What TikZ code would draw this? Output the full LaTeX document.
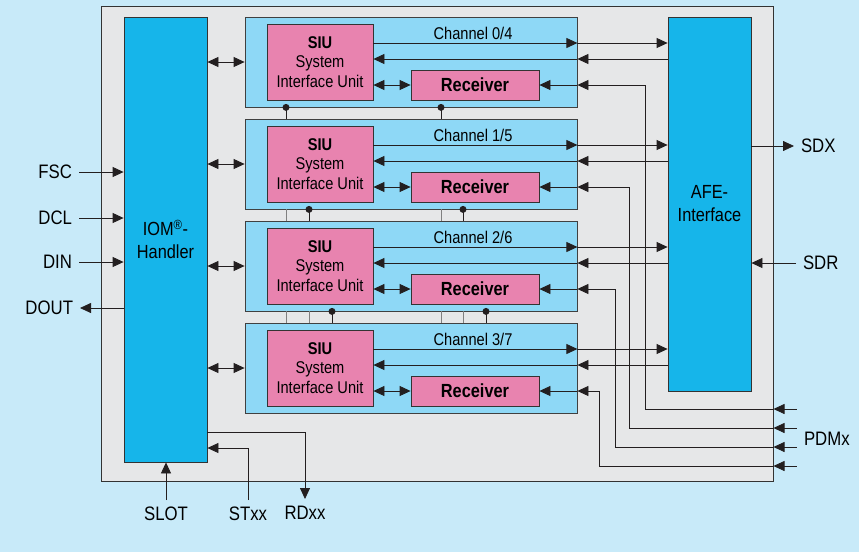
\documentclass[tikz,border=0pt]{standalone}
\usepackage{fontspec}
\setmainfont{Liberation Sans}[FakeStretch=0.86]
\usetikzlibrary{arrows.meta,positioning,calc}
\definecolor{pagebg}{HTML}{C8EAF9}
\definecolor{chipgray}{HTML}{E6E7E8}
\definecolor{hostblue}{HTML}{16B5EA}
\definecolor{chanblue}{HTML}{8ED8F6}
\definecolor{siupink}{HTML}{E883AF}
\definecolor{wire}{HTML}{231F20}
\tikzset{
  chipbox/.style={draw=black!80, fill=chipgray, line width=1pt, inner sep=0pt},
  hostbox/.style={draw=black!80, fill=hostblue, line width=0.8pt, minimum width=83pt, inner sep=0pt, align=center, font=\fontsize{19}{23}\selectfont},
  chanbox/.style={draw=black!75, fill=chanblue, line width=0.8pt, minimum width=332pt, minimum height=90pt, inner sep=0pt},
  siubox/.style={draw=black!80, fill=siupink, line width=0.8pt, minimum width=106pt, minimum height=76pt, inner sep=0pt, align=center, font=\fontsize{17}{19.5}\selectfont},
  rxbox/.style={draw=black!80, fill=siupink, line width=0.8pt, minimum width=128pt, minimum height=30pt, inner sep=0pt, font=\bfseries\fontsize{19}{22}\selectfont},
  chanlabel/.style={font=\fontsize{17}{20}\selectfont, inner sep=0pt},
  siglabel/.style={font=\fontsize{19.5}{22}\selectfont, inner sep=0pt, outer sep=7pt},
  sigarrow/.style={-{Triangle[length=11pt,width=10pt]}, line width=0.8pt, draw=wire},
  sigdarrow/.style={{Triangle[length=11pt,width=10pt]}-{Triangle[length=11pt,width=10pt]}, line width=0.8pt, draw=wire},
  busdark/.style={line width=0.8pt, draw=wire},
  buslight/.style={line width=0.8pt, draw=black!50},
  busdot/.style={circle, fill=wire, inner sep=0pt, minimum size=7pt},
}

\begin{document}
\begin{tikzpicture}[x=1pt,y=-1pt]
  \fill[pagebg] (0,0) rectangle (859,552);
  \useasboundingbox (0,0) rectangle (859,552);

  \node[chipbox, minimum width=672pt, minimum height=475pt] (chip) at (437,243.5) {};

  \node[hostbox, minimum height=445pt] (iom) at (165.5,239.5) {IOM\textsuperscript{\textregistered}-\\Handler};
  \node[hostbox, minimum height=374pt] (afe) at (709.5,204) {AFE-\\Interface};

  % channel blocks
  \node[chanbox] (ch0) at (411,62) {};
  \node[siubox] (siu0) at (320,62) {\textbf{SIU}\\System\\Interface Unit};
  \node[rxbox] (rx0) at (475,85) {Receiver};
  \node[chanlabel] (lbl0) at (473,33) {Channel 0/4};

  \node[chanbox] (ch1) at (411,164) {};
  \node[siubox] (siu1) at (320,164) {\textbf{SIU}\\System\\Interface Unit};
  \node[rxbox] (rx1) at (475,187) {Receiver};
  \node[chanlabel] (lbl1) at (473,135) {Channel 1/5};

  \node[chanbox] (ch2) at (411,266) {};
  \node[siubox] (siu2) at (320,266) {\textbf{SIU}\\System\\Interface Unit};
  \node[rxbox] (rx2) at (475,289) {Receiver};
  \node[chanlabel] (lbl2) at (473,237) {Channel 2/6};

  \node[chanbox] (ch3) at (411,368) {};
  \node[siubox] (siu3) at (320,368) {\textbf{SIU}\\System\\Interface Unit};
  \node[rxbox] (rx3) at (475,391) {Receiver};
  \node[chanlabel] (lbl3) at (473,339) {Channel 3/7};

  % bus between the channels
  \draw[busdark] (ch0.south -| 286,0) -- (ch1.north -| 286,0);
  \draw[busdark] (ch0.south -| 441,0) -- (ch1.north -| 441,0);
  \draw[buslight] (ch1.south -| 286,0) -- (ch2.north -| 286,0);
  \draw[busdark] (ch1.south -| 309,0) -- (ch2.north -| 309,0);
  \draw[buslight] (ch1.south -| 441,0) -- (ch2.north -| 441,0);
  \draw[busdark] (ch1.south -| 463,0) -- (ch2.north -| 463,0);
  \draw[buslight] (ch2.south -| 286,0) -- (ch3.north -| 286,0);
  \draw[buslight] (ch2.south -| 309,0) -- (ch3.north -| 309,0);
  \draw[busdark] (ch2.south -| 332,0) -- (ch3.north -| 332,0);
  \draw[buslight] (ch2.south -| 441,0) -- (ch3.north -| 441,0);
  \draw[buslight] (ch2.south -| 463,0) -- (ch3.north -| 463,0);
  \draw[busdark] (ch2.south -| 486,0) -- (ch3.north -| 486,0);
  \node[busdot] (dot0a) at (ch0.south -| 286,0) {};
  \node[busdot] (dot0b) at (ch0.south -| 441,0) {};
  \node[busdot] (dot1a) at (ch1.south -| 309,0) {};
  \node[busdot] (dot1b) at (ch1.south -| 463,0) {};
  \node[busdot] (dot2a) at (ch2.south -| 332,0) {};
  \node[busdot] (dot2b) at (ch2.south -| 486,0) {};

  % IOM side
  \draw[sigdarrow] (iom.east |- ch0.west) -- (ch0.west);
  \draw[sigdarrow] (iom.east |- ch1.west) -- (ch1.west);
  \draw[sigdarrow] (iom.east |- ch2.west) -- (ch2.west);
  \draw[sigdarrow] (iom.east |- ch3.west) -- (ch3.west);

  % SIU <-> receiver
  \draw[sigdarrow] (siu0.east |- rx0.west) -- (rx0.west);
  \draw[sigdarrow] (siu1.east |- rx1.west) -- (rx1.west);
  \draw[sigdarrow] (siu2.east |- rx2.west) -- (rx2.west);
  \draw[sigdarrow] (siu3.east |- rx3.west) -- (rx3.west);

  % channel <-> AFE
  \coordinate (out0) at ([yshift=19pt]ch0.east);
  \coordinate (in0) at ([yshift=3pt]ch0.east);
  \coordinate (out1) at ([yshift=19pt]ch1.east);
  \coordinate (in1) at ([yshift=3pt]ch1.east);
  \coordinate (out2) at ([yshift=19pt]ch2.east);
  \coordinate (in2) at ([yshift=3pt]ch2.east);
  \coordinate (out3) at ([yshift=19pt]ch3.east);
  \coordinate (in3) at ([yshift=3pt]ch3.east);
  \draw[sigarrow] (siu0.east |- out0) -- (out0);
  \draw[sigarrow] (out0) -- (afe.west |- out0);
  \draw[sigarrow] (afe.west |- in0) -- (in0);
  \draw[sigarrow] (in0) -- (siu0.east |- in0);
  \draw[sigarrow] (siu1.east |- out1) -- (out1);
  \draw[sigarrow] (out1) -- (afe.west |- out1);
  \draw[sigarrow] (afe.west |- in1) -- (in1);
  \draw[sigarrow] (in1) -- (siu1.east |- in1);
  \draw[sigarrow] (siu2.east |- out2) -- (out2);
  \draw[sigarrow] (out2) -- (afe.west |- out2);
  \draw[sigarrow] (afe.west |- in2) -- (in2);
  \draw[sigarrow] (in2) -- (siu2.east |- in2);
  \draw[sigarrow] (siu3.east |- out3) -- (out3);
  \draw[sigarrow] (out3) -- (afe.west |- out3);
  \draw[sigarrow] (afe.west |- in3) -- (in3);
  \draw[sigarrow] (in3) -- (siu3.east |- in3);

  % PDMx to the receivers
  \coordinate (pdm0) at (chip.east |- 0,409);
  \coordinate (pdm1) at (chip.east |- 0,428);
  \coordinate (pdm2) at (chip.east |- 0,447);
  \coordinate (pdm3) at (chip.east |- 0,466);
  \draw[sigarrow] ([xshift=23pt]pdm0) -- (pdm0);
  \draw[sigarrow] ([xshift=23pt]pdm1) -- (pdm1);
  \draw[sigarrow] ([xshift=23pt]pdm2) -- (pdm2);
  \draw[sigarrow] ([xshift=23pt]pdm3) -- (pdm3);
  \draw[sigarrow] (pdm0) -| (645,0 |- rx0.east) -- (ch0.east |- rx0.east);
  \draw[sigarrow] (pdm1) -| (629,0 |- rx1.east) -- (ch1.east |- rx1.east);
  \draw[sigarrow] (pdm2) -| (615,0 |- rx2.east) -- (ch2.east |- rx2.east);
  \draw[sigarrow] (pdm3) -| (599,0 |- rx3.east) -- (ch3.east |- rx3.east);
  \draw[sigarrow] (ch0.east |- rx0.east) -- (rx0.east);
  \draw[sigarrow] (ch1.east |- rx1.east) -- (rx1.east);
  \draw[sigarrow] (ch2.east |- rx2.east) -- (rx2.east);
  \draw[sigarrow] (ch3.east |- rx3.east) -- (rx3.east);
  \node[siglabel, anchor=west] (pdmx) at (797,439) {PDMx};

  % outer signals
  \node[siglabel, anchor=east] (fsc) at (79,172) {FSC};
  \node[siglabel, anchor=east] (dcl) at (79,218) {DCL};
  \node[siglabel, anchor=east] (din) at (79,262) {DIN};
  \node[siglabel, anchor=east] (dout) at (80,308) {DOUT};
  \draw[sigarrow] (fsc.east) -- (iom.west |- fsc.east);
  \draw[sigarrow] (dcl.east) -- (iom.west |- dcl.east);
  \draw[sigarrow] (din.east) -- (iom.west |- din.east);
  \draw[sigarrow] (iom.west |- dout.east) -- (dout.east);

  \node[siglabel, anchor=west] (sdx) at (794,146) {SDX};
  \node[siglabel, anchor=west] (sdr) at (796,263) {SDR};
  \draw[sigarrow] (afe.east |- sdx.west) -- (sdx.west);
  \draw[sigarrow] (sdr.west) -- (afe.east |- sdr.west);

  \node[siglabel, anchor=north] (slot) at (166,500) {SLOT};
  \node[siglabel, anchor=north] (stxx) at (248,500) {STxx};
  \node[siglabel, anchor=north] (rdxx) at (305,499) {RDxx};
  \draw[sigarrow] (slot.north) -- (slot.north |- iom.south);
  \draw[sigarrow] (stxx.north) |- (iom.east |- 0,448);
  \draw[sigarrow] (iom.east |- 0,432) -| (rdxx.north);
\end{tikzpicture}
\end{document}
